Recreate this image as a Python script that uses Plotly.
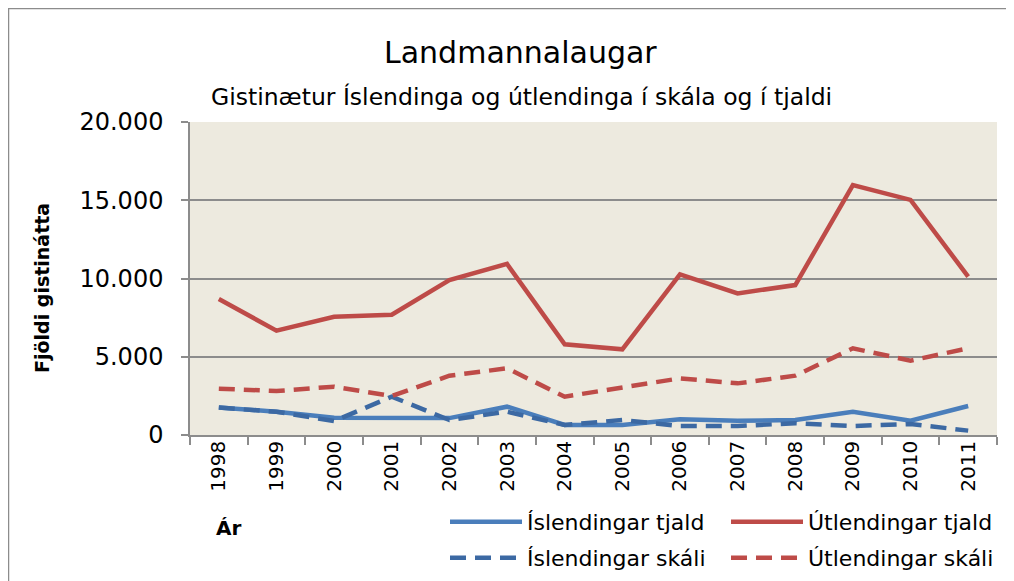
import plotly.graph_objects as go

years = ["1998", "1999", "2000", "2001", "2002", "2003", "2004", "2005",
         "2006", "2007", "2008", "2009", "2010", "2011"]
isl_tjald = [1750, 1490, 1100, 1100, 1080, 1810, 640, 640, 1000, 910, 960, 1490, 920, 1850]
utl_tjald = [8690, 6665, 7560, 7690, 9900, 10930, 5800, 5475, 10270, 9050, 9580, 15970, 15020, 10120]
isl_skali = [1750, 1490, 890, 2450, 960, 1490, 640, 960, 575, 575, 750, 575, 700, 280]
utl_skali = [2960, 2810, 3090, 2490, 3790, 4260, 2450, 3020, 3620, 3300, 3790, 5540, 4750, 5540]

FONT = "DejaVu Sans"
OFF = 8  # page body margin
W, H = 1014 - OFF, 581 - OFF
L, T = 190 - OFF, 122 - OFF
R = W - (997 - OFF)
B = H - (435 - OFF)
pw = W - L - R
ph = H - T - B

def px(x):  # screen x -> paper
    return (x - OFF - L) / pw

def py(y):  # screen y -> paper
    return (H - B - (y - OFF)) / ph

DASH = "16px,9px"
fig = go.Figure()
fig.add_trace(go.Scatter(x=years, y=isl_tjald, mode="lines", name="Íslendingar tjald",
                         line=dict(color="#4A7EBB", width=4.5), legend="legend", showlegend=True))
fig.add_trace(go.Scatter(x=years, y=utl_tjald, mode="lines", name="Útlendingar tjald",
                         line=dict(color="#BE4B48", width=4.5), legend="legend2", showlegend=True))
fig.add_trace(go.Scatter(x=years, y=isl_skali, mode="lines", name="Íslendingar skáli",
                         line=dict(color="#3C69A3", width=4.5, dash=DASH), legend="legend3", showlegend=True))
fig.add_trace(go.Scatter(x=years, y=utl_skali, mode="lines", name="Útlendingar skáli",
                         line=dict(color="#BE4B48", width=4.5, dash=DASH), legend="legend4", showlegend=True))

legend_common = dict(orientation="v", xanchor="left", yanchor="middle", visible=True,
                     font=dict(family=FONT, size=22, color="#000000"),
                     bgcolor="rgba(0,0,0,0)", itemwidth=72)

fig.update_layout(
    width=W, height=H,
    showlegend=True,
    margin=dict(l=L, r=R, t=T, b=B, autoexpand=False),
    paper_bgcolor="#FFFFFF",
    plot_bgcolor="#EDEADF",
    separators=",.",
    font=dict(family=FONT, size=20, color="#000000"),
    legend=dict(x=px(445), y=py(522), **legend_common),
    legend2=dict(x=px(726), y=py(522), **legend_common),
    legend3=dict(x=px(445), y=py(558), **legend_common),
    legend4=dict(x=px(726), y=py(558), **legend_common),
    xaxis=dict(type="category", range=[-0.5, 13.5], tickson="boundaries", ticks="outside",
               ticklen=8, tickcolor="#8C8C8C", tickwidth=1.5, tickangle=-90,
               showline=True, linecolor="#8C8C8C", linewidth=1.5, showgrid=False,
               ticklabelstandoff=-4,
               tickfont=dict(family=FONT, size=20)),
    yaxis=dict(range=[0, 20000], tick0=0, dtick=5000, tickformat=",d",
               ticks="outside", ticklen=7, tickcolor="#8C8C8C", tickwidth=1.5,
               showline=True, linecolor="#8C8C8C", linewidth=1.5,
               showgrid=True, gridcolor="#8C8C8C", gridwidth=1.5,
               ticklabelstandoff=13,
               zeroline=False, tickfont=dict(family=FONT, size=24)),
    annotations=[
        dict(text="Landmannalaugar", x=px(520), y=py(52), xref="paper", yref="paper",
             showarrow=False, font=dict(family=FONT, size=30), xanchor="center", yanchor="middle"),
        dict(text="Gistinætur Íslendinga og útlendinga í skála og í tjaldi", x=px(521), y=py(97),
             xref="paper", yref="paper", showarrow=False, font=dict(family=FONT, size=23.5),
             xanchor="center", yanchor="middle"),
        dict(text="<b>Fjöldi gistinátta</b>", x=px(42), y=py(288), xref="paper", yref="paper",
             showarrow=False, textangle=-90, font=dict(family=FONT, size=19),
             xanchor="center", yanchor="middle"),
        dict(text="<b>Ár</b>", x=px(228), y=py(528), xref="paper", yref="paper",
             showarrow=False, font=dict(family=FONT, size=20), xanchor="center", yanchor="middle"),
    ],
    shapes=[
        dict(type="rect", xref="paper", yref="paper", x0=px(8.5), x1=px(1012), y0=py(600), y1=py(8.5),
             line=dict(color="#8C8C8C", width=1.5), fillcolor="rgba(0,0,0,0)", layer="below"),
    ],
)

fig.write_html("out.html")
